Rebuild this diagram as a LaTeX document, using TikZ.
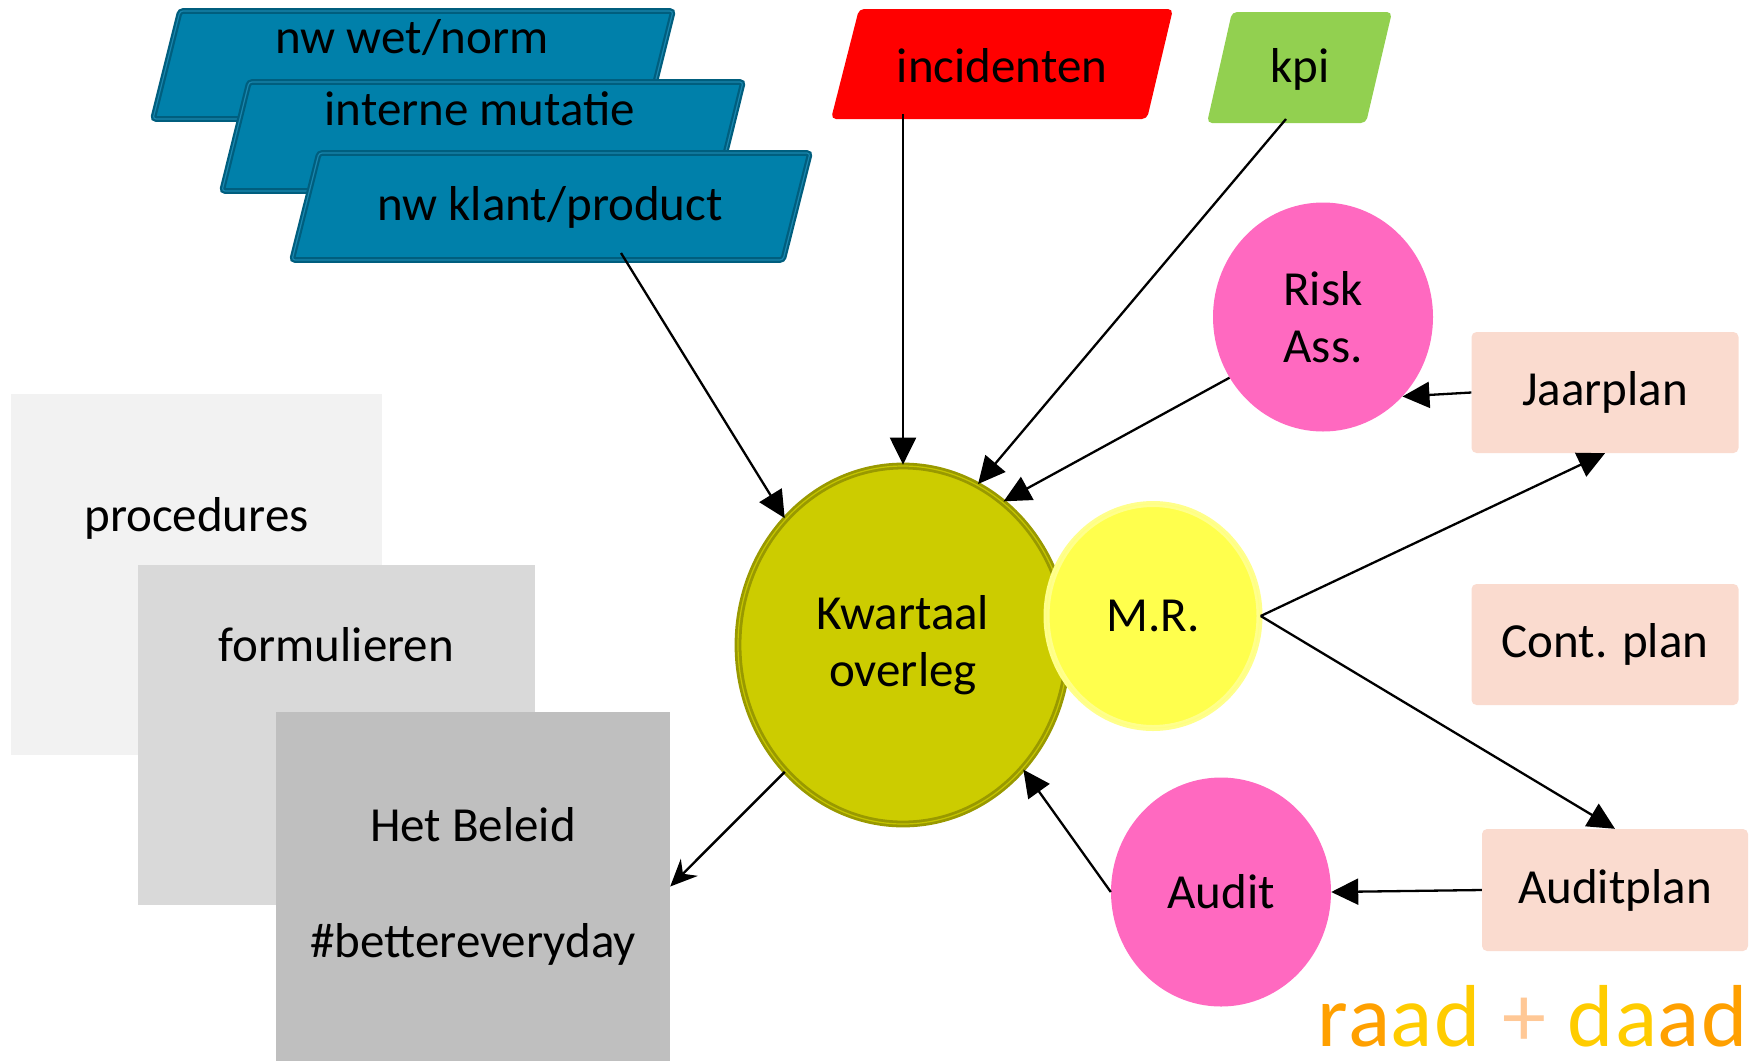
\documentclass[tikz,border=0pt]{standalone}
\usepackage{fontspec}
\setmainfont{Carlito}
\usetikzlibrary{shapes.geometric, arrows.meta}

\definecolor{olijf}{HTML}{CCCC00}
\definecolor{olijfrand}{HTML}{999900}
\definecolor{olijflicht}{HTML}{C4C400}
\definecolor{geelbol}{HTML}{FFFF4D}
\definecolor{geelrand}{HTML}{FFFF8C}
\definecolor{roze}{HTML}{FF69C0}
\definecolor{perzik}{HTML}{FADBCF}
\definecolor{blauw}{HTML}{0080AA}
\definecolor{blauwrand}{HTML}{005E7E}
\definecolor{blauwlicht}{HTML}{1A86AE}
\definecolor{rood}{HTML}{FF0000}
\definecolor{groen}{HTML}{92D050}
\definecolor{grijs1}{HTML}{F2F2F2}
\definecolor{grijs2}{HTML}{D9D9D9}
\definecolor{grijs3}{HTML}{BFBFBF}
\definecolor{oranje}{HTML}{FFA000}
\definecolor{goud}{HTML}{FFCC00}
\definecolor{plus}{HTML}{FFC896}

\begin{document}
\begin{tikzpicture}[x=1pt, y=-1pt,
    lbl/.style={font=\fontsize{49}{59}\selectfont, align=center, inner sep=0pt},
    bol/.style={ellipse, inner sep=0pt, font=\fontsize{49}{57}\selectfont, align=center},
    plan/.style={rectangle, rounded corners=5pt, fill=perzik, inner sep=0pt,
                 minimum width=267pt, minimum height=121pt, font=\fontsize{49}{59}\selectfont},
    vel/.style={rectangle, inner sep=0pt, font=\fontsize{49}{58}\selectfont, align=center},
    blauwvlak/.style={fill=blauw, draw=blauwrand, line width=2.2pt, double=blauwlicht,
                      double distance=1.2pt, rounded corners=3pt},
    pijl/.style={-{Triangle[length=27pt, width=26pt]}, line width=2.3pt},
    pijldun/.style={-{Stealth[length=27pt, width=24pt, inset=9pt]}, line width=2.4pt}]
    \useasboundingbox (0,0) rectangle (1760,1061);

    % Documenten:
    \node[vel, fill=grijs1, minimum width=371pt, minimum height=361pt,
          text height=34pt, text depth=121pt] (proc) at (196.5,574.5) {procedures};
    \node[vel, fill=grijs2, minimum width=397pt, minimum height=340pt,
          text height=34pt, text depth=182pt] (form) at (336.5,735) {formulieren};
    \node[vel, fill=grijs3, minimum width=394pt, minimum height=349pt] (beleid) at (473,886.5)
          {Het Beleid\\[58pt]\#bettereveryday};

    % Triggers:
    \draw[blauwvlak] (180,11) -- (673,11) -- (646,119) -- (153,119) -- cycle;
    \node[lbl] (wet) at (412,38) {nw wet/norm};
    \draw[blauwvlak] (249,82) -- (743,82) -- (716,191) -- (222,191) -- cycle;
    \node[lbl] (mutatie) at (480,109) {interne mutatie};
    \draw[blauwvlak] (319,153) -- (810,153) -- (783,260) -- (292,260) -- cycle;
    \node[lbl] (klant) at (550,207) {nw klant/product};
    \coordinate (klantuit) at (621,253);

    \fill[rood, rounded corners=5pt] (859,9) -- (1173,9) -- (1147,119) -- (831,119) -- cycle;
    \node[lbl] (inc) at (1002,66) {incidenten};
    \coordinate (incuit) at (903,114);

    \fill[groen, rounded corners=5pt] (1232,12) -- (1392,12) -- (1366,123) -- (1207,123) -- cycle;
    \node[lbl] (kpi) at (1300,69) {kpi};
    \coordinate (kpiuit) at (1286,119);

    % Overleg:
    \node[bol, fill=olijf, draw=olijfrand, line width=2.8pt, double=olijflicht, double distance=1.2pt,
          minimum width=330pt, minimum height=358pt] (kwartaal) at (903,645) {Kwartaal\\overleg};
    \node[bol, fill=geelbol, draw=geelrand, line width=2.4pt, double=geelbol!70!white, double distance=1.2pt,
          minimum width=213pt, minimum height=224pt] (mr) at (1153,616) {M.R.};
    \node[bol, fill=roze, minimum width=220pt, minimum height=229pt] (risk) at (1323,317) {Risk\\Ass.};
    \node[bol, fill=roze, minimum width=220pt, minimum height=229pt] (audit) at (1221,892) {Audit};

    % Plannen:
    \node[plan] (jaar) at (1605,392.5) {Jaarplan};
    \node[plan] (cont) at (1605,644.5) {Cont. plan};
    \node[plan, minimum width=266pt, minimum height=122pt] (auditplan) at (1615,890) {Auditplan};

    % Pijlen:
    \draw[pijl] (klantuit) -- (kwartaal.133);
    \draw[pijl] (incuit) -- (kwartaal.90);
    \draw[pijl] (kpiuit) -- (kwartaal.65);
    \draw[pijl] (risk.213) -- (kwartaal.55);
    \draw[pijl] (jaar.west) -- (risk.-45);
    \draw[pijl] (mr.east) -- (jaar.south);
    \draw[pijl] (mr.east) -- (auditplan.north);
    \draw[pijl] (auditplan.west) -- (audit.east);
    \draw[pijl] (audit.west) -- (kwartaal.-46);
    \draw[pijldun] (kwartaal.227) -- (beleid.east);

    \node[anchor=base east, inner sep=0pt, font=\fontsize{88}{100}\selectfont\addfontfeatures{LetterSpace=2}]
          (slogan) at (1748,1046)
          {\textcolor{oranje}{ra}\textcolor{goud}{ad} \textcolor{plus}{+} \textcolor{goud}{da}\textcolor{oranje}{ad}};
\end{tikzpicture}
\end{document}
